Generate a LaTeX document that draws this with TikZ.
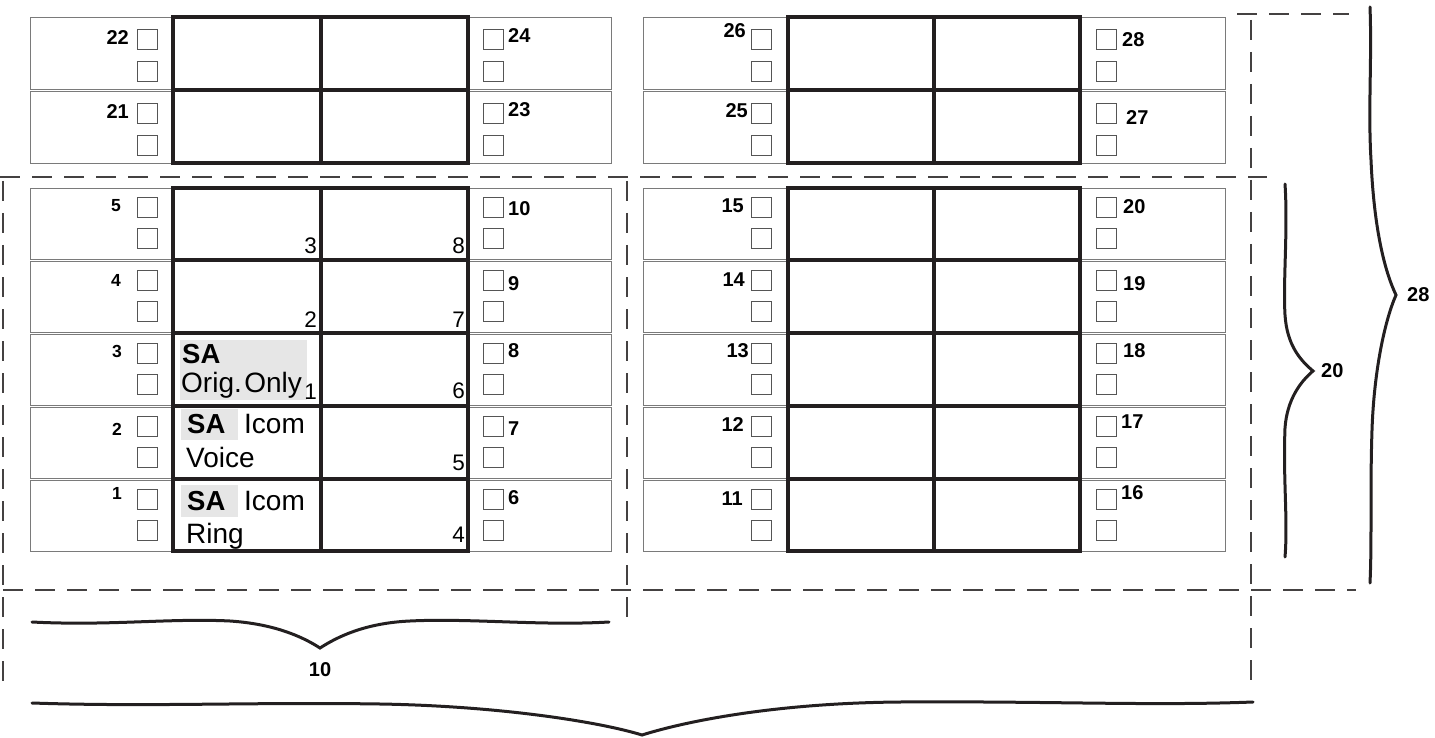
\documentclass[tikz,border=0pt]{standalone}
\usepackage{fontspec}
\setmainfont{Liberation Sans}
\definecolor{ink}{HTML}{231F20}
\definecolor{panel}{HTML}{7A7A7A}
\definecolor{cb}{HTML}{555555}
\definecolor{hl}{HTML}{E6E6E6}
\begin{document}
\begin{tikzpicture}[x=1pt,y=-1pt,
  panelbox/.style={draw=panel, line width=0.8pt},
  chk/.style={draw=cb, line width=0.9pt},
  gridln/.style={draw=ink, line width=3.2pt},
  dashln/.style={draw=ink!85, line width=1.6pt, dash pattern=on 20pt off 12pt},
  brace/.style={draw=ink, line width=3pt, line cap=round},
  lbl/.style={font=\fontsize{20}{20}\selectfont\bfseries, inner sep=0pt},
  lbls/.style={font=\fontsize{17.5}{17.5}\selectfont\bfseries, inner sep=0pt},
  num/.style={font=\fontsize{22.5}{22.5}\selectfont, inner sep=0pt},
  bigtxt/.style={font=\fontsize{28}{28}\selectfont, inner sep=0pt},
  sab/.style={font=\fontsize{27.5}{27.5}\selectfont\bfseries, inner sep=0pt}]
\useasboundingbox (0,0) rectangle (1435,738);

% side panels
\foreach \t in {17,91} {
  \foreach \a/\b in {30/173,468/611,643/788,1080/1225}
    \draw[panelbox] (\a,\t) rectangle (\b,\t+72);
}
\foreach \t in {188,261,334,407,480} {
  \foreach \a/\b in {30/173,468/611,643/788,1080/1225}
    \draw[panelbox] (\a,\t) rectangle (\b,\t+71);
}
% checkboxes
\foreach \x in {137,483,751,1096} {
  \foreach \t in {17,91} {
    \draw[chk] (\x,\t+12) rectangle ++(20,20);
    \draw[chk] (\x,\t+44) rectangle ++(20,20);
  }
  \foreach \t in {188,261,334,407,480} {
    \draw[chk] (\x,\t+9) rectangle ++(20,20);
    \draw[chk] (\x,\t+40) rectangle ++(20,20);
  }
}

% highlights
\fill[hl] (180,340) rectangle (307,400);
\fill[hl] (181,409) rectangle (238,440);
\fill[hl] (181,485) rectangle (238,517);

% grids
\foreach \a/\m/\b in {173/321/468,788/934/1080} {
  \draw[gridln] (\a,17) rectangle (\b,163);
  \draw[gridln] (\a,90) -- (\b,90);
  \draw[gridln] (\m,17) -- (\m,163);
  \draw[gridln] (\a,188) rectangle (\b,551);
  \foreach \y in {260,333,406,479} \draw[gridln] (\a,\y) -- (\b,\y);
  \draw[gridln] (\m,188) -- (\m,551);
}

% top labels
\node[lbl, anchor=base east] (l22) at (129,45) {22};
\node[lbl, anchor=base east] (l21) at (129,119) {21};
\node[lbl, anchor=base west] (l24) at (508,43) {24};
\node[lbl, anchor=base west] (l23) at (508,117) {23};
\node[lbl, anchor=base east] (l26) at (746,38) {26};
\node[lbl, anchor=base east] (l25) at (748,118) {25};
\node[lbl, anchor=base west] (l28) at (1122,47) {28};
\node[lbl, anchor=base west] (l27) at (1126,125) {27};

% bottom left module labels
\node[lbls, anchor=base east] (l5) at (121,212) {5};
\node[lbls, anchor=base east] (l4) at (121,286) {4};
\node[lbls, anchor=base east] (l3) at (122,357) {3};
\node[lbls, anchor=base east] (l2) at (122,435) {2};
\node[lbls, anchor=base east] (l1) at (122,499) {1};
\node[lbl, anchor=base west] (l10) at (508,216) {10};
\node[lbl, anchor=base west] (l9) at (508,290) {9};
\node[lbl, anchor=base west] (l8) at (508,357) {8};
\node[lbl, anchor=base west] (l7) at (508,435) {7};
\node[lbl, anchor=base west] (l6) at (508,504) {6};

% bottom right module labels
\node[lbl, anchor=base east] (l15) at (744,213) {15};
\node[lbl, anchor=base east] (l14) at (745,286) {14};
\node[lbl, anchor=base east] (l13) at (749,357) {13};
\node[lbl, anchor=base east] (l12) at (744,431) {12};
\node[lbl, anchor=base east] (l11) at (743,505) {11};
\node[lbl, anchor=base west] (l20) at (1123,214) {20};
\node[lbl, anchor=base west] (l19) at (1123,290) {19};
\node[lbl, anchor=base west] (l18) at (1123,357) {18};
\node[lbl, anchor=base west] (l17) at (1121,428) {17};
\node[lbl, anchor=base west] (l16) at (1121,499) {16};

% cell numbers
\node[num, anchor=base east] (c3) at (317,254) {3};
\node[num, anchor=base east] (c8) at (465,254) {8};
\node[num, anchor=base east] (c2) at (317,327) {2};
\node[num, anchor=base east] (c7) at (465,327) {7};
\node[num, anchor=base east] (c1) at (317,399) {1};
\node[num, anchor=base east] (c6) at (465,398) {6};
\node[num, anchor=base east] (c5) at (465,470) {5};
\node[num, anchor=base east] (c4) at (465,542) {4};

% SA texts
\node[sab, anchor=base west] (sa3) at (182,363) {SA};
\node[bigtxt, anchor=base west] (orig) at (181,392) {Orig.\hspace{2.5pt}Only};
\node[sab, anchor=base west] (sa2) at (187,433) {SA};
\node[bigtxt, anchor=base west] (icom2) at (244,433) {Icom};
\node[bigtxt, anchor=base west] (voice) at (186,467) {Voice};
\node[sab, anchor=base west] (sa1) at (187,510) {SA};
\node[bigtxt, anchor=base west] (icom1) at (244,510) {Icom};
\node[bigtxt, anchor=base west] (ring) at (186,543) {Ring};

% dashed frames
\draw[dashln] (0,177) -- (1267,177);
\draw[dashln] (1237,14) -- (1349,14);
\draw[dashln] (1251,20) -- (1251,687);
\draw[dashln] (3,590) -- (1356,590);
\draw[dashln] (3,181) -- (3,687);
\draw[dashln] (627,181) -- (627,617);

% braces
\draw[brace] (32,622) .. controls (110,626) and (170,618) .. (230,621)
  .. controls (275,624) and (303,637) .. (320,648)
  .. controls (337,637) and (365,623) .. (410,621)
  .. controls (470,618) and (540,626) .. (609,622);
\node[lbl, anchor=center] (b10) at (320,670) {10};

\draw[brace] (32,703) .. controls (150,707) and (250,702) .. (380,704)
  .. controls (500,706) and (600,722) .. (642,735)
  .. controls (690,720) and (780,703) .. (900,702)
  .. controls (1050,701) and (1150,706) .. (1253,702);

\draw[brace] (1285,184) .. controls (1288,230) and (1283,280) .. (1285,315)
  .. controls (1287,345) and (1300,360) .. (1313,371)
  .. controls (1300,382) and (1287,400) .. (1285,428)
  .. controls (1283,480) and (1288,520) .. (1285,557);
\node[lbl, anchor=west] (b20) at (1321,371) {20};

\draw[brace] (1370,7) .. controls (1372,60) and (1368,110) .. (1371,160)
  .. controls (1374,230) and (1385,272) .. (1396,295)
  .. controls (1385,320) and (1374,370) .. (1372,430)
  .. controls (1370,490) and (1372,540) .. (1370,583);
\node[lbl, anchor=west] (b28) at (1407,295) {28};
\end{tikzpicture}
\end{document}
